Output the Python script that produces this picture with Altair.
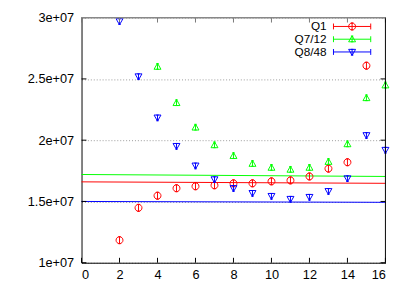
import altair as alt
import pandas as pd

# ---- data ----
series_names = ["Q1", "Q7/12", "Q8/48"]
series_colors = ["#ff0000", "#00ff00", "#0000ff"]

x_q1 = [2, 3, 4, 5, 6, 7, 8, 9, 10, 11, 12, 13, 14, 15]
y_q1 = [11.84e6, 14.48e6, 15.47e6, 16.08e6, 16.24e6, 16.32e6, 16.48e6, 16.48e6,
        16.64e6, 16.72e6, 17.04e6, 17.68e6, 18.2e6, 26.08e6]
x_q7 = [4, 5, 6, 7, 8, 9, 10, 11, 12, 13, 14, 15, 16]
y_q7 = [26.0e6, 23.04e6, 21.04e6, 19.6e6, 18.72e6, 18.08e6, 17.76e6, 17.6e6,
        17.76e6, 18.24e6, 19.68e6, 23.44e6, 24.48e6]
x_q8 = [2, 3, 4, 5, 6, 7, 8, 9, 10, 11, 12, 13, 14, 15, 16]
y_q8 = [29.7e6, 25.2e6, 21.84e6, 19.52e6, 17.92e6, 16.8e6, 16.08e6, 15.68e6,
        15.44e6, 15.2e6, 15.36e6, 15.84e6, 16.88e6, 20.4e6, 19.2e6]

fit_x = [0, 16]
fit_q1 = [16.6e6, 16.48e6]
fit_q7 = [17.2e6, 17.04e6]
fit_q8 = [15.0e6, 14.93e6]

x_ticks = [0, 2, 4, 6, 8, 10, 12, 14, 16]
y_ticks = [1.0e7, 1.5e7, 2.0e7, 2.5e7, 3.0e7]

# ---- build tables ----
pts = pd.concat([
    pd.DataFrame({"x": x_q1, "y": y_q1, "s": "Q1"}),
    pd.DataFrame({"x": x_q7, "y": y_q7, "s": "Q7/12"}),
    pd.DataFrame({"x": x_q8, "y": y_q8, "s": "Q8/48"}),
])
fits = pd.concat([
    pd.DataFrame({"x": fit_x, "y": fit_q1, "s": "Q1"}),
    pd.DataFrame({"x": fit_x, "y": fit_q7, "s": "Q7/12"}),
    pd.DataFrame({"x": fit_x, "y": fit_q8, "s": "Q8/48"}),
])

circ = "M-1,0A1,1 0 1,1 1,0A1,1 0 1,1 -1,0ZM0,-1V1M-0.35,-1H0.35M-0.35,1H0.35"
tri_up = "M0,-1L1,0.75L-1,0.75ZM0,-0.9V0.75M-0.35,-0.9H0.35M-0.35,0.75H0.35"
tri_dn = "M0,1L1,-0.75L-1,-0.75ZM0,0.9V-0.75M-0.35,0.9H0.35M-0.35,-0.75H0.35"
shapes = [circ, tri_up, tri_dn]

W, H = 310, 250
FONT = "Liberation Sans"

xs = alt.Scale(domain=[0, 16], nice=False, zero=False)
ys = alt.Scale(domain=[1e7, 3e7], nice=False, zero=False)
xaxis = alt.Axis(values=x_ticks, ticks=False, grid=False, domainColor="black",
                 labelFontSize=13, labelPadding=6, labelColor="black", title=None,
                 labelFont=FONT)
yaxis = alt.Axis(values=y_ticks, ticks=False, grid=True, gridDash=[1, 2],
                 gridColor="#999999", domainColor="black", labelFontSize=13,
                 labelPadding=8, labelColor="black", title=None, labelFont=FONT,
                 labelExpr="replace(format(datum.value, '.2~e'), 'e+7', 'e+07')")
X = alt.X("x:Q", scale=xs, axis=xaxis)
Y = alt.Y("y:Q", scale=ys, axis=yaxis)
col = alt.Color("s:N", scale=alt.Scale(domain=series_names, range=series_colors), legend=None)

points = alt.Chart(pts).mark_point(filled=False, strokeWidth=1, size=50, opacity=1).encode(
    x=X, y=Y, color=col,
    shape=alt.Shape("s:N", scale=alt.Scale(domain=series_names, range=shapes), legend=None),
)
lines = alt.Chart(fits).mark_line(strokeWidth=1).encode(x=X, y=Y, color=col, detail="s:N")

# inward ticks on all four sides
ytdf = pd.DataFrame({"y": y_ticks})
xtdf = pd.DataFrame({"x": x_ticks})
tl = alt.Chart(ytdf).mark_rule(color="black").encode(y=Y, x=alt.value(0), x2=alt.value(5))
tr = alt.Chart(ytdf).mark_rule(color="black").encode(y=Y, x=alt.value(W), x2=alt.value(W - 5))
tb = alt.Chart(xtdf).mark_rule(color="black").encode(x=X, y=alt.value(H), y2=alt.value(H - 5))
tt = alt.Chart(xtdf).mark_rule(color="#777777").encode(x=X, y=alt.value(0), y2=alt.value(5))

one = pd.DataFrame({"a": [0]})
right_border = alt.Chart(one).mark_rule(color="black").encode(
    x=alt.value(W), y=alt.value(0), y2=alt.value(H))
top_border = alt.Chart(one).mark_rule(color="#888888", strokeWidth=1.5).encode(
    x=alt.value(0), x2=alt.value(W), y=alt.value(0))

# legend (top right, inside plot)
leg_layers = []
for i, (nm, c, shp) in enumerate(zip(series_names, series_colors, shapes)):
    yy = 9 + 13 * i
    d = pd.DataFrame({"name": [nm]})
    leg_layers.append(alt.Chart(d).mark_text(align="right", baseline="middle", fontSize=12,
                                             font=FONT, color="black").encode(
        x=alt.value(250), y=alt.value(yy), text="name:N"))
    leg_layers.append(alt.Chart(d).mark_rule(color=c).encode(
        x=alt.value(257), x2=alt.value(295), y=alt.value(yy)))
    leg_layers.append(alt.Chart(d).mark_rule(color=c).encode(
        x=alt.value(257), y=alt.value(yy - 3), y2=alt.value(yy + 3)))
    leg_layers.append(alt.Chart(d).mark_rule(color=c).encode(
        x=alt.value(295), y=alt.value(yy - 3), y2=alt.value(yy + 3)))
    leg_layers.append(alt.Chart(d).mark_point(filled=False, strokeWidth=1, size=50, opacity=1,
                                              color=c, shape=shp).encode(
        x=alt.value(276), y=alt.value(yy)))

chart = alt.layer(lines, points, tl, tr, tb, tt, right_border, top_border, *leg_layers).properties(
    width=W, height=H,
    autosize=alt.AutoSizeParams(type="none"),
    padding={"left": 75, "top": 7, "right": 22, "bottom": 26},
    background="white",
).configure_view(stroke=None)

chart.save("out.html", embed_options={"renderer": "svg", "actions": False})
